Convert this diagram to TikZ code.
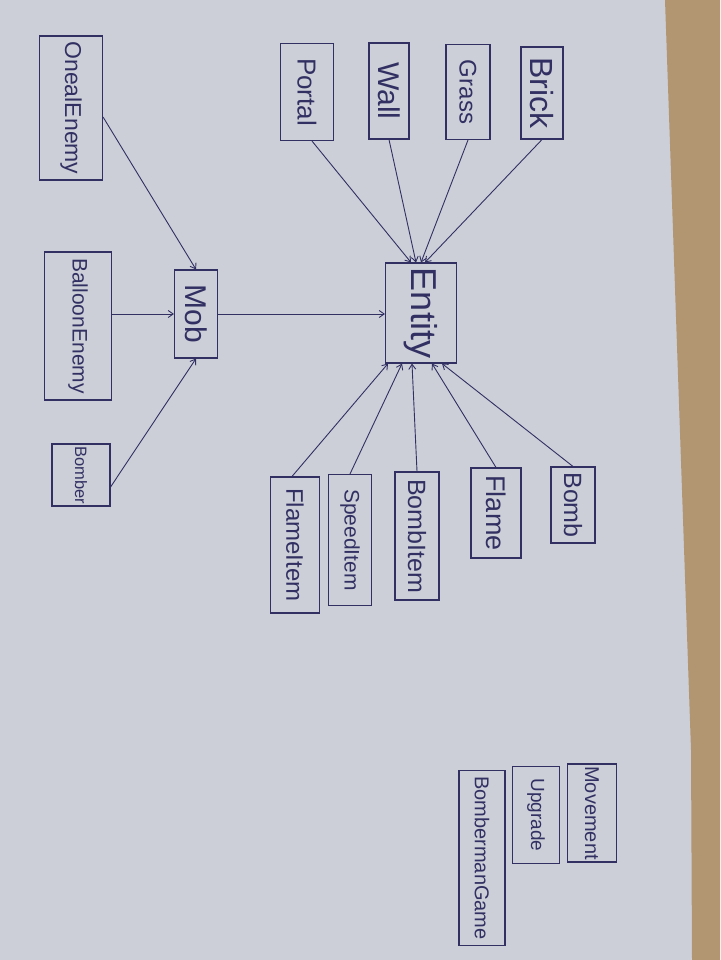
\documentclass[tikz,border=0pt]{standalone}
\usepackage{fontspec}
\setmainfont{Liberation Sans}
\usepackage{tikz}
\usetikzlibrary{calc, positioning, arrows.meta}

\definecolor{ink}{RGB}{50,48,98}
\definecolor{paper}{RGB}{204,207,216}
\definecolor{wood}{RGB}{178,150,114}
\newcommand{\vtext}[1]{\rotatebox{-90}{#1}}
\newcommand{\fs}[1]{\fontsize{#1}{#1}\selectfont}

\begin{document}
\begin{tikzpicture}[x=1pt, y=-1pt, >={Straight Barb[length=5pt, width=7pt]},
    cls/.style={draw=ink, text=ink, line width=1.1pt, inner sep=0pt},
    link/.style={->, draw=ink, line width=0.9pt}]
    \useasboundingbox (0,0) rectangle (720,960);
    % sheet of paper on the desk
    \fill[paper] (0,0) rectangle (720,960);
    \fill[wood] (665,0) -- (720,0) -- (720,960) -- (692,960) -- (691,750) -- cycle;

    % top row
    \node[cls, minimum width=42, minimum height=92, font=\fs{32}] (brick) at (542,93) {\vtext{Brick}};
    \node[cls, minimum width=44, minimum height=95, font=\fs{24}] (grass) at (468,92) {\vtext{Grass}};
    \node[cls, minimum width=40, minimum height=96, font=\fs{30}] (wall) at (389,91) {\vtext{Wall}};
    \node[cls, minimum width=53, minimum height=97, font=\fs{26}] (portal) at (307,92) {\vtext{Portal}};
    \node[cls, minimum width=63, minimum height=144, font=\fs{23}] (oneal) at (71,108) {\vtext{OnealEnemy}};

    % middle
    \node[cls, minimum width=71, minimum height=100, font=\fs{36}] (entity) at (421,313) {\vtext{Entity}};
    \node[cls, minimum width=43, minimum height=88, font=\fs{30}] (mob) at (196,314) {\vtext{Mob}};
    \node[cls, minimum width=67, minimum height=148, font=\fs{21}] (balloon) at (78,326) {\vtext{BalloonEnemy}};
    \node[cls, minimum width=58, minimum height=62, font=\fs{16.5}] (bomber) at (81,475) {\vtext{Bomber}};

    % bottom row
    \node[cls, minimum width=44, minimum height=76, font=\fs{25}] (bomb) at (573,505) {\vtext{Bomb}};
    \node[cls, minimum width=50, minimum height=90, font=\fs{27}] (flame) at (496,513) {\vtext{Flame}};
    \node[cls, minimum width=44, minimum height=128, font=\fs{25}] (bombitem) at (417,536) {\vtext{BombItem}};
    \node[cls, minimum width=43, minimum height=131, font=\fs{21}] (speeditem) at (350,540) {\vtext{SpeedItem}};
    \node[cls, minimum width=49, minimum height=136, font=\fs{24}] (flameitem) at (295,545) {\vtext{FlameItem}};

    % loose classes
    \node[cls, minimum width=49, minimum height=98, font=\fs{20}] (movement) at (592,813) {\vtext{Movement}};
    \node[cls, minimum width=47, minimum height=97, font=\fs{19}] (upgrade) at (536,815) {\vtext{Upgrade}};
    \node[cls, minimum width=46, minimum height=175, font=\fs{20}] (game) at (482,858) {\vtext{BombermanGame}};

    % inheritance
    \draw[link] (brick.south) -- ($(entity.north)+(4,0)$);
    \draw[link] (grass.south) -- ($(entity.north)+(0,0)$);
    \draw[link] (wall.south) -- ($(entity.north)+(-5,0)$);
    \draw[link] ($(portal.south)+(5,0)$) -- ($(entity.north)+(-10,0)$);
    \draw[link] ($(oneal.east)+(0,9)$) -- (mob.north);
    \draw[link] (balloon.east |- mob.west) -- (mob.west);
    \draw[link] ($(bomber.east)+(0,12)$) -- (mob.south);
    \draw[link] (mob.east) -- (entity.west |- mob.east);
    \draw[link] (bomb.north) -- ($(entity.south)+(21,0)$);
    \draw[link] (flame.north) -- ($(entity.south)+(11,0)$);
    \draw[link] (bombitem.north) -- ($(entity.south)+(-9,0)$);
    \draw[link] (speeditem.north) -- ($(entity.south)+(-19,0)$);
    \draw[link] ($(flameitem.north)+(-3,0)$) -- ($(entity.south)+(-33,0)$);
\end{tikzpicture}
\end{document}
